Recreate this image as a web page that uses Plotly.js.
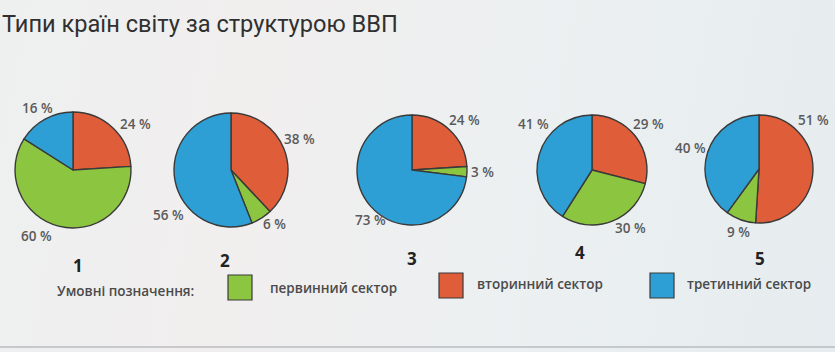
<!DOCTYPE html>
<html>
<head>
<meta charset="utf-8">
<script src="https://cdn.plot.ly/plotly-3.0.1.min.js"></script>
<style>
html,body{margin:0;padding:0;}
body{width:835px;height:352px;overflow:hidden;background:linear-gradient(100deg,#eef0f0 0%,#f1eeee 30%,#ecf0f1 60%,#e6ecef 100%);}
#chart{width:835px;height:352px;}
</style>
</head>
<body>
<div id="chart"></div>
<script>
// Data
const chartTitle = 'Типи країн світу за структурою ВВП';
const sectors = ['вторинний сектор', 'первинний сектор', 'третинний сектор'];
const sectorColors = ['#df5d39', '#8cc53f', '#2d9fd5'];
const countryTypes = ['1', '2', '3', '4', '5'];
const type1 = [24, 60, 16];
const type2 = [38, 6, 56];
const type3 = [24, 3, 73];
const type4 = [29, 30, 41];
const type5 = [51, 9, 40];
const allTypes = [type1, type2, type3, type4, type5];
const legendCaption = 'Умовні позначення:';
const legendOrder = [1, 0, 2]; // первинний, вторинний, третинний

// Layout geometry (pixels)
const W = 835, H = 352;
const centers = [[73, 170], [231, 170], [412, 170], [592, 170], [759, 169]];
const radii = [58, 57, 55, 55, 54];
const numberPos = [[78, 265], [225, 260], [412, 258], [580, 252], [760, 258]];
// label positions per pie, per sector (вторинний, первинний, третинний)
const pctLabelPos = [
  [[135, 124], [36, 236], [37, 108]],
  [[299, 139], [274, 224], [168, 215]],
  [[465, 120], [483, 172], [370, 220]],
  [[648, 124], [630, 228], [533, 124]],
  [[813, 120], [738, 232], [690, 148]]
];

const px = x => x / W;
const py = y => 1 - y / H;

const labelFont = {family: 'Open Sans, sans-serif', size: 13.5, color: '#5a5a5a', weight: 600};

const traces = allTypes.map((vals, i) => {
  const [cx, cy] = centers[i];
  const r = radii[i];
  return {
    type: 'pie',
    values: vals,
    labels: sectors,
    sort: false,
    direction: 'clockwise',
    rotation: 0,
    marker: {colors: sectorColors, line: {color: '#3a3a3a', width: 1.4}},
    textinfo: 'none',
    hoverinfo: 'label+value',
    showlegend: false,
    automargin: false,
    domain: {x: [px(cx - r), px(cx + r)], y: [py(cy + r), py(cy - r)]}
  };
});

const annotations = [];
annotations.push({
  text: chartTitle, xref: 'paper', yref: 'paper', x: px(0), y: py(24),
  xanchor: 'left', yanchor: 'middle', showarrow: false,
  font: {family: 'Roboto, sans-serif', size: 23.6, color: '#303030'}
});
// percent labels
allTypes.forEach((vals, i) => {
  vals.forEach((v, j) => {
    annotations.push({
      text: v + ' %', xref: 'paper', yref: 'paper',
      x: px(pctLabelPos[i][j][0]), y: py(pctLabelPos[i][j][1]),
      xanchor: 'center', yanchor: 'middle', showarrow: false, font: labelFont
    });
  });
});
countryTypes.forEach((t, i) => {
  annotations.push({
    text: '<b>' + t + '</b>', xref: 'paper', yref: 'paper',
    x: px(numberPos[i][0]), y: py(numberPos[i][1]),
    showarrow: false, xanchor: 'center', yanchor: 'middle',
    font: {family: 'Open Sans, sans-serif', size: 17, color: '#222'}
  });
});

// Legend row
const legFont = {family: 'Open Sans, sans-serif', size: 13.5, color: '#4a4a4a', weight: 600};
annotations.push({
  text: legendCaption, xref: 'paper', yref: 'paper',
  x: px(55), y: py(291), xanchor: 'left', yanchor: 'middle', showarrow: false,
  font: legFont
});
const legendBoxX = [228, 439, 650];
const legendBoxY = [[275, 300], [273, 298], [273, 298]];
const legendTextX = [268, 475, 685];
const legendTextY = [288, 284, 284];
const shapes = [];
legendOrder.forEach((si, k) => {
  shapes.push({
    type: 'rect', xref: 'paper', yref: 'paper',
    x0: px(legendBoxX[k]), x1: px(legendBoxX[k] + 24),
    y0: py(legendBoxY[k][1]), y1: py(legendBoxY[k][0]),
    fillcolor: sectorColors[si], line: {color: '#3a3a3a', width: 1.2}
  });
  annotations.push({
    text: sectors[si], xref: 'paper', yref: 'paper',
    x: px(legendTextX[k]), y: py(legendTextY[k]), xanchor: 'left', yanchor: 'middle',
    showarrow: false, font: legFont
  });
});

// bottom edge line of the photographed page
shapes.push({type: 'line', xref: 'paper', yref: 'paper', x0: 0, x1: 1, y0: py(347), y1: py(347),
  line: {color: '#b9bdbf', width: 1.5}});

const layout = {
  width: W, height: H,
  margin: {l: 0, r: 0, t: 0, b: 0},
  paper_bgcolor: 'rgba(0,0,0,0)',
  plot_bgcolor: 'rgba(0,0,0,0)',
  annotations: annotations,
  shapes: shapes,
  showlegend: false
};

Plotly.newPlot('chart', traces, layout, {displayModeBar: false, staticPlot: true});
</script>
</body>
</html>
